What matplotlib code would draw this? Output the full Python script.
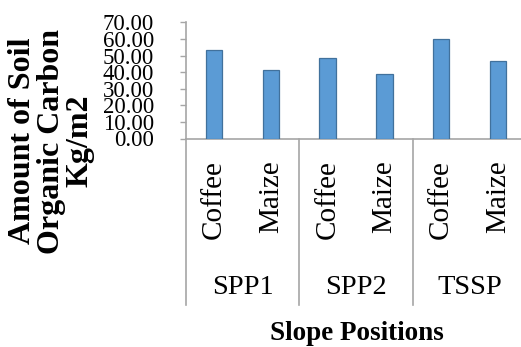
import matplotlib
matplotlib.use("Agg")
import matplotlib.pyplot as plt
import matplotlib.transforms as mtransforms

crops = ["Coffee", "Maize", "Coffee", "Maize", "Coffee", "Maize"]
groups = ["SPP1", "SPP2", "TSSP"]
values = [53.2, 41.5, 48.6, 38.9, 60.2, 46.7]
yticks = [0, 10, 20, 30, 40, 50, 60, 70]

W, H = 521, 347
fig = plt.figure(figsize=(W / 100, H / 100), dpi=100)
plt.rcParams['font.family'] = ['Liberation Serif', 'DejaVu Serif']

left, right = 185.7, 526.2
top, bottom = 22.3, 138.5
ax = fig.add_axes([left / W, 1 - bottom / H, (right - left) / W, (bottom - top) / H])

gray = "#A6A6A6"
x = list(range(len(values)))
ax.bar(x, values, width=0.29, color="#5B9BD5", edgecolor="#41719C", linewidth=0.9, zorder=3)

ax.set_xlim(-0.5, len(values) - 0.5)
ax.set_ylim(0, 70)
ax.set_yticks(yticks)
ax.set_yticklabels([f"{v:.2f}" for v in yticks], fontsize=16.5)
ax.tick_params(axis="y", direction="out", length=4, width=1, color=gray, pad=19)

ax.set_xticks(x)
ax.set_xticklabels(crops, rotation=90, fontsize=21)
ax.tick_params(axis="x", length=0, pad=15.5)

for s in ["top", "right"]:
    ax.spines[s].set_visible(False)
for s in ["left", "bottom"]:
    ax.spines[s].set_color(gray)
    ax.spines[s].set_linewidth(1.2)

trans = mtransforms.blended_transform_factory(ax.transData, ax.transAxes)
ax_h = bottom - top
ybot = -(305 - bottom) / ax_h
for gx in [-0.5, 1.5, 3.5, 5.5]:
    ax.plot([gx, gx], [0, ybot], transform=trans, color=gray, lw=1.2, clip_on=False)

for i, g in enumerate(groups):
    ax.text(2 * i + 0.5, -(288 - bottom) / ax_h, g, transform=trans,
            ha="center", va="center", fontsize=20.5)

fig.text(357 / W, 1 - 334 / H, "Slope Positions", ha="center", va="center",
         fontsize=19.5, fontweight="bold")
fig.text(51 / W, 1 - 141 / H, "Amount of Soil\nOrganic Carbon\nKg/m2", ha="center",
         va="center", rotation=90, fontsize=23, fontweight="bold", linespacing=0.98)

fig.savefig("out.png", dpi=100)
